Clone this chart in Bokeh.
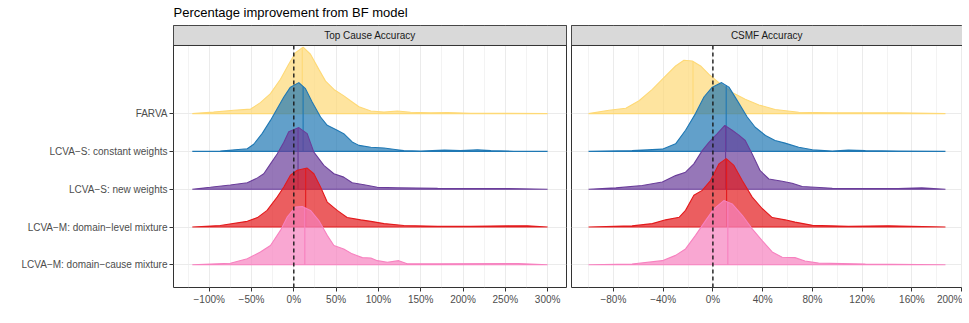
import numpy as np
from bokeh.plotting import figure
from bokeh.layouts import row
from bokeh.models import FixedTicker, Range1d
from bokeh.core.properties import value
from bokeh.embed import file_html
from bokeh.resources import INLINE

# ---------------- data ----------------
title_text = "Percentage improvement from BF model"
facets = ["Top Cause Accuracy", "CSMF Accuracy"]
methods = ["FARVA", "LCVA−S: constant weights", "LCVA−S: new weights",
           "LCVA−M: domain−level mixture", "LCVA−M: domain−cause mixture"]
colors = ["#FED976", "#1F78B4", "#6A3D9A", "#E31A1C", "#F781BF"]

# Top Cause Accuracy: ridge density profiles (x in %, scaled height)
tca_farva_x = [-120, -95, -71, -51, -39.5, -27.6, -15.8, -5.9, 2, 11, 19.7, 29.6, 37.5, 47.4, 59.2, 67, 77, 91, 106.6, 122.4, 138, 162, 181.7, 209, 249, 300]
tca_farva_h = [0, 0.04, 0.09, 0.12, 0.29, 0.53, 0.91, 1.31, 1.61, 1.76, 1.57, 1.17, 0.86, 0.64, 0.47, 0.34, 0.18, 0.07, 0.04, 0.07, 0.035, 0.02, 0.03, 0.01, 0.01, 0]
tca_const_x = [-120, -87, -55, -47.4, -37.5, -27.6, -19.7, -11.8, -4, 5.9, 13.8, 21.7, 31.6, 39.5, 51.3, 59, 69, 77, 91, 106.6, 122, 130, 150, 178, 197, 217, 233, 260, 300]
tca_const_h = [0, 0.01, 0.07, 0.19, 0.47, 0.82, 1.13, 1.44, 1.70, 1.82, 1.66, 1.31, 0.91, 0.69, 0.56, 0.47, 0.25, 0.16, 0.11, 0.09, 0.044, 0.02, 0.01, 0.035, 0.02, 0.044, 0.02, 0.005, 0]
tca_new_x = [-120, -98.7, -75, -55, -43, -35.5, -27.6, -19.7, -11.8, -6, 5.9, 15.8, 23.7, 35.5, 47.4, 59, 69, 83, 98.7, 122, 170, 249, 300]
tca_new_h = [0, 0.05, 0.11, 0.17, 0.30, 0.41, 0.67, 0.93, 1.24, 1.52, 1.63, 1.47, 0.98, 0.63, 0.41, 0.32, 0.17, 0.12, 0.05, 0.04, 0.025, 0.02, 0]
tca_dlevel_x = [-120, -87, -55, -43, -31.6, -19.7, -11.8, -4, 4, 15.8, 23.7, 31.6, 39.5, 51.3, 63, 79, 91, 106.6, 130, 170, 209, 276, 300]
tca_dlevel_h = [0, 0.04, 0.15, 0.25, 0.44, 0.79, 1.06, 1.37, 1.50, 1.56, 1.41, 1.06, 0.66, 0.44, 0.25, 0.19, 0.15, 0.09, 0.04, 0.02, 0.02, 0.035, 0]
tca_dcause_x = [-120, -75, -55, -39.5, -27.6, -15.8, -7.9, 2, 10, 19.7, 29.6, 39.5, 47.4, 59, 69, 81, 91, 98.7, 110.6, 124, 134, 170, 265, 300]
tca_dcause_h = [0, 0.04, 0.16, 0.34, 0.51, 0.91, 1.26, 1.53, 1.54, 1.44, 1.17, 0.78, 0.51, 0.42, 0.29, 0.19, 0.18, 0.11, 0.07, 0.11, 0.03, 0.03, 0.035, 0]
tca_medians = [10, 11, 5, 14, 13]

# CSMF Accuracy: ridge density profiles
csmf_farva_x = [-100, -83.5, -70, -59.4, -48.7, -38, -30, -23.3, -16.6, -9.9, -3.2, 4.8, 15.5, 26, 37, 50, 69, 96, 149, 187]
csmf_farva_h = [0, 0.09, 0.14, 0.34, 0.64, 1.0, 1.26, 1.41, 1.39, 1.26, 1.04, 0.82, 0.56, 0.38, 0.23, 0.11, 0.035, 0.02, 0.02, 0]
csmf_const_x = [-100, -65, -40.7, -30, -22, -14, -7.2, -0.5, 7, 12.9, 19.5, 27.6, 34, 42.3, 50, 58, 69, 80, 96, 109, 122.6, 149, 187]
csmf_const_h = [0, 0.02, 0.06, 0.2, 0.56, 1.0, 1.44, 1.70, 1.82, 1.70, 1.35, 0.91, 0.64, 0.42, 0.29, 0.22, 0.11, 0.044, 0.01, 0.035, 0.02, 0.01, 0]
csmf_new_x = [-100, -78, -56.8, -40.7, -30, -22, -15.3, -8.6, -3.2, 3.5, 9.6, 15.5, 20.9, 26, 31.6, 38, 45, 55.7, 63.7, 71.8, 96, 149, 168, 187]
csmf_new_h = [0, 0.035, 0.1, 0.19, 0.36, 0.45, 0.67, 1.02, 1.24, 1.47, 1.69, 1.56, 1.43, 1.29, 0.93, 0.49, 0.27, 0.21, 0.16, 0.07, 0.025, 0.02, 0.035, 0]
csmf_dlevel_x = [-100, -65, -48.7, -38, -27, -22, -15.3, -8.6, -1.9, 4.8, 10.7, 16.9, 23.6, 31.6, 39.6, 47.7, 58, 66, 80, 109, 141, 187]
csmf_dlevel_h = [0, 0.03, 0.09, 0.19, 0.26, 0.44, 0.84, 0.97, 1.23, 1.67, 1.81, 1.63, 1.23, 0.79, 0.49, 0.25, 0.19, 0.13, 0.044, 0.02, 0.035, 0]
csmf_dcause_x = [-100, -65, -40.7, -30, -22, -14, -5.9, 0.8, 8.8, 15.5, 23.6, 31.6, 39.6, 47.7, 55.7, 66, 74, 85, 122.6, 187]
csmf_dcause_h = [0, 0.02, 0.11, 0.25, 0.42, 0.78, 1.17, 1.48, 1.70, 1.61, 1.31, 0.95, 0.64, 0.34, 0.2, 0.19, 0.1, 0.044, 0.02, 0]
csmf_medians = [-16, 10.7, 10.2, 11, 12]

tca_ticks = [-100, -50, 0, 50, 100, 150, 200, 250, 300]
tca_minor = [-125, -75, -25, 25, 75, 125, 175, 225, 275]
csmf_ticks = [-80, -40, 0, 40, 80, 120, 160, 200]
csmf_minor = [-100, -60, -20, 20, 60, 100, 140, 180]
ref_x = 0

# ---------------- layout constants ----------------
Y0, PANEL_TOP, Y1 = 0.4, 6.802, 7.331
FONT = "Liberation Sans"


def pct(t):
    return ("%d%%" % t).replace("-", "−")


def make_panel(facet, xs, hs, medians, xr, ticks, minor, width, mbl, mbr, show_y):
    p = figure(width=width, height=315, output_backend="svg", toolbar_location=None,
               x_range=Range1d(*xr), y_range=Range1d(Y0, Y1),
               min_border_left=mbl, min_border_right=mbr,
               min_border_top=25, min_border_bottom=28)
    p.background_fill_color = "white"
    p.border_fill_color = "white"
    p.outline_line_color = "#333333"
    p.outline_line_width = 1

    n = len(methods)
    for i, (x, h) in enumerate(zip(xs, hs)):
        base = n - i
        x = np.asarray(x, float)
        y = base + np.asarray(h, float)
        px = np.concatenate([x, x[::-1]])
        py = np.concatenate([y, np.full(len(x), base)])
        p.patch(px, py, fill_color=colors[i], fill_alpha=0.7,
                line_color=colors[i], line_width=1.1)
        m = medians[i]
        mh = base + np.interp(m, x, np.asarray(h, float))
        p.segment(x0=[m], y0=[base], x1=[m], y1=[mh], line_color=colors[i], line_width=1.1)

    p.segment(x0=[ref_x], y0=[Y0], x1=[ref_x], y1=[PANEL_TOP],
              line_color="#1A1A1A", line_width=1.4, line_dash="4 3")

    # facet strip
    p.quad(left=[xr[0]], right=[xr[1]], bottom=[PANEL_TOP], top=[Y1],
           fill_color="#D9D9D9", line_color="#333333", line_width=1)
    p.text(x=[(xr[0] + xr[1]) / 2], y=[(PANEL_TOP + Y1) / 2], text=[facet],
           text_align="center", text_baseline="middle", text_font=value(FONT),
           text_font_size="10px", text_color="#1A1A1A")

    # axes
    p.xaxis.ticker = FixedTicker(ticks=ticks, minor_ticks=minor)
    p.xaxis.major_label_overrides = {t: pct(t) for t in ticks}
    p.yaxis.ticker = FixedTicker(ticks=list(range(1, n + 1)))
    p.yaxis.major_label_overrides = {n - i: m for i, m in enumerate(methods)}
    for ax in (p.xaxis, p.yaxis):
        ax.axis_line_color = None
        ax.major_tick_line_color = "#333333"
        ax.major_tick_out = 4
        ax.major_tick_in = 0
        ax.minor_tick_line_color = None
        ax.major_label_text_font = FONT
        ax.major_label_text_font_size = "10px"
        ax.major_label_text_color = "#4D4D4D"
        ax.major_label_standoff = 2
    if not show_y:
        p.yaxis.visible = False

    p.xgrid.grid_line_color = "#EBEBEB"
    p.xgrid.grid_line_width = 1
    p.xgrid.minor_grid_line_color = "#EBEBEB"
    p.xgrid.minor_grid_line_width = 0.6
    p.ygrid.grid_line_color = "#EBEBEB"
    p.ygrid.grid_line_width = 1
    return p


left = make_panel(facets[0],
                  [tca_farva_x, tca_const_x, tca_new_x, tca_dlevel_x, tca_dcause_x],
                  [tca_farva_h, tca_const_h, tca_new_h, tca_dlevel_h, tca_dcause_h],
                  tca_medians, (-142.2, 322.3), tca_ticks, tca_minor,
                  width=568, mbl=173, mbr=2, show_y=True)
left.title.text = title_text
left.title.text_font = FONT
left.title.text_font_size = "13px"
left.title.text_font_style = "normal"
left.title.text_color = "black"
left.title.align = "left"
left.title.vertical_align = "top"
left.title.standoff = 8
left.title.offset = 0

right = make_panel(facets[1],
                   [csmf_farva_x, csmf_const_x, csmf_new_x, csmf_dlevel_x, csmf_dcause_x],
                   [csmf_farva_h, csmf_const_h, csmf_new_h, csmf_dlevel_h, csmf_dcause_h],
                   csmf_medians, (-113.7, 200.7), csmf_ticks, csmf_minor,
                   width=394, mbl=3, mbr=0, show_y=False)

layout = row(left, right)
open("out.html", "w").write(file_html(layout, INLINE))
